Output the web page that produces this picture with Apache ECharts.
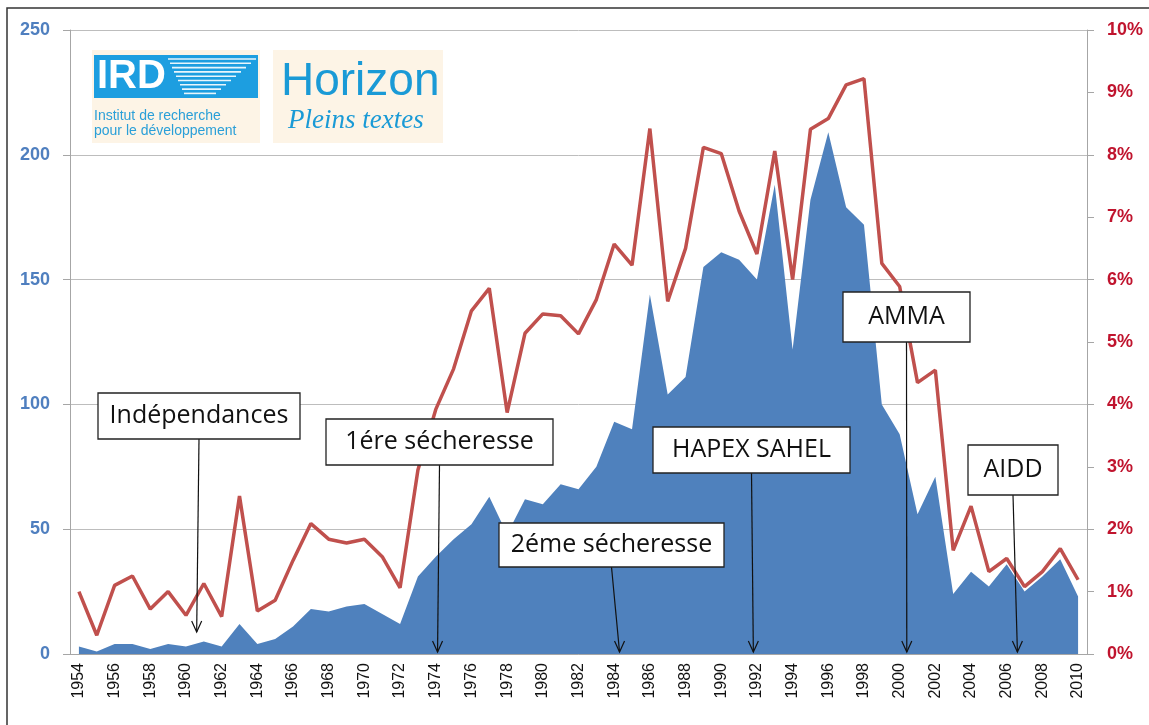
<!DOCTYPE html>
<html>
<head>
<meta charset="utf-8">
<script src="https://cdn.jsdelivr.net/npm/echarts@6/dist/echarts.min.js"></script>
<style>
  html, body { margin: 0; padding: 0; background: #fff; }
  #main { width: 1149px; height: 725px; }
</style>
</head>
<body>
<div id="main"></div>
<script>
// years on the x axis
var years = ['1954', '1955', '1956', '1957', '1958', '1959', '1960', '1961', '1962', '1963',
  '1964', '1965', '1966', '1967', '1968', '1969', '1970', '1971', '1972', '1973',
  '1974', '1975', '1976', '1977', '1978', '1979', '1980', '1981', '1982', '1983',
  '1984', '1985', '1986', '1987', '1988', '1989', '1990', '1991', '1992', '1993',
  '1994', '1995', '1996', '1997', '1998', '1999', '2000', '2001', '2002', '2003',
  '2004', '2005', '2006', '2007', '2008', '2009', '2010'];

// number of documents per year (left axis, blue area)
var documents = [3, 1, 4, 4, 2, 4, 3, 5, 3, 12,
  4, 6, 11, 18, 17, 19, 20, 16, 12, 31,
  39, 46, 52, 63, 48, 62, 60, 68, 66, 75,
  93, 90, 144, 104, 111, 155, 161, 158, 150, 188,
  122, 182, 209, 179, 172, 100, 88, 56, 71, 24,
  33, 27, 36, 25, 31, 38, 23];

// share in percent (right axis, red line)
var share = [1.0, 0.3, 1.1, 1.25, 0.72, 1.0, 0.62, 1.13, 0.6, 2.53,
  0.69, 0.86, 1.5, 2.09, 1.84, 1.78, 1.84, 1.56, 1.06, 2.95,
  3.92, 4.57, 5.5, 5.86, 3.87, 5.14, 5.45, 5.42, 5.13, 5.68,
  6.57, 6.23, 8.42, 5.65, 6.5, 8.12, 8.02, 7.1, 6.41, 8.06,
  6.0, 8.41, 8.58, 9.12, 9.22, 6.26, 5.89, 4.35, 4.55, 1.66,
  2.37, 1.32, 1.53, 1.08, 1.32, 1.69, 1.19];

// annotations: label, year pointed at, value where the arrow stops
var noteTexts = ['Indépendances', '1ére sécheresse', '2éme sécheresse', 'HAPEX SAHEL', 'AMMA', 'AIDD'];
var noteYears = [1960.6, 1974.1, 1984.3, 1991.8, 2000.4, 2006.6];
var noteEnds = [8, 0, 0, 0, 0, 0];

// box layout [x, y, w, h] of each annotation
var noteBoxes = [
  [98, 393, 202, 46],
  [326, 419, 227, 46],
  [499, 523, 225, 44],
  [653, 427, 197, 46],
  [843, 292, 127, 50],
  [968, 445, 90, 50]
];

var chart = echarts.init(document.getElementById('main'));

var option = {
  backgroundColor: '#ffffff',
  animation: false,
  grid: { left: 70, right: 62, top: 30, bottom: 71 },
  xAxis: {
    type: 'category',
    data: years,
    boundaryGap: true,
    axisLine: { lineStyle: { color: '#a6a6a6', width: 1 } },
    axisTick: { interval: 0, length: 6, lineStyle: { color: '#a6a6a6' } },
    axisLabel: {
      interval: 1,
      rotate: 90,
      margin: 9,
      color: '#111',
      fontSize: 16,
      fontFamily: 'Liberation Sans'
    }
  },
  yAxis: [{
    type: 'value',
    min: 0,
    max: 250,
    interval: 50,
    axisLine: { show: true, lineStyle: { color: '#a6a6a6' } },
    axisTick: { show: true, length: 7, lineStyle: { color: '#a6a6a6' } },
    axisLabel: {
      color: '#4f7fbf',
      fontWeight: 'bold',
      fontSize: 18,
      margin: 20,
      fontFamily: 'Liberation Sans'
    },
    splitLine: { lineStyle: { color: '#bdbdbd', width: 1 } }
  }, {
    type: 'value',
    min: 0,
    max: 10,
    interval: 1,
    position: 'right',
    axisLine: { show: true, lineStyle: { color: '#a6a6a6' } },
    axisTick: { show: true, length: 7, lineStyle: { color: '#a6a6a6' } },
    axisLabel: {
      formatter: '{value}%',
      color: '#c0142e',
      fontWeight: 'bold',
      fontSize: 18,
      margin: 20,
      fontFamily: 'Liberation Sans'
    },
    splitLine: { show: false }
  }],
  series: [{
    name: 'Documents',
    type: 'line',
    yAxisIndex: 0,
    data: documents,
    symbol: 'none',
    lineStyle: { width: 0 },
    areaStyle: { color: '#4f81bd', opacity: 1 },
    z: 2
  }, {
    name: 'Part',
    type: 'line',
    yAxisIndex: 1,
    data: share,
    symbol: 'none',
    lineStyle: { color: '#c0504d', width: 3.5 },
    z: 3
  }]
};

chart.setOption(option);

// graphic overlays: frame, logos, annotation boxes with arrows
function xOfYear(y) {
  var idx = y - 1954;
  var i0 = Math.floor(idx);
  var p0 = chart.convertToPixel({ xAxisIndex: 0 }, i0);
  var p1 = chart.convertToPixel({ xAxisIndex: 0 }, i0 + 1);
  return p0 + (idx - i0) * (p1 - p0);
}

var graphics = [];

// outer frame (top and left)
graphics.push({
  type: 'polyline',
  shape: { points: [[7, 725], [7, 8], [1149, 8]] },
  style: { stroke: '#333', lineWidth: 1.5, fill: null },
  z: 10
});

// IRD logo
var ird = [];
ird.push({ type: 'rect', shape: { x: 92, y: 50, width: 168, height: 93 }, style: { fill: '#fdf4e6' } });
ird.push({ type: 'rect', shape: { x: 94, y: 55, width: 164, height: 43 }, style: { fill: '#1d9ee0' } });
for (var k = 0; k < 9; k++) {
  ird.push({
    type: 'line',
    shape: { x1: 168 + k * 2, y1: 59 + k * 4.3, x2: 256 - k * 5, y2: 59 + k * 4.3 },
    style: { stroke: '#ffffff', lineWidth: 1.6, opacity: 0.9 }
  });
}
ird.push({
  type: 'text',
  style: { x: 97, y: 77, text: 'IRD', fill: '#ffffff', font: 'bold 40px "Liberation Sans"', verticalAlign: 'middle' }
});
ird.push({
  type: 'text',
  style: { x: 94, y: 116, text: 'Institut de recherche', fill: '#2a9fd8', font: '14px "Liberation Sans"', verticalAlign: 'middle' }
});
ird.push({
  type: 'text',
  style: { x: 94, y: 131, text: 'pour le développement', fill: '#2a9fd8', font: '14px "Liberation Sans"', verticalAlign: 'middle' }
});
graphics.push({ type: 'group', children: ird, z: 10 });

// Horizon logo
var hz = [];
hz.push({ type: 'rect', shape: { x: 273, y: 50, width: 170, height: 93 }, style: { fill: '#fdf4e6' } });
hz.push({
  type: 'text',
  style: { x: 281, y: 82, text: 'Horizon', fill: '#1a9ad6', font: '46px "Liberation Sans"', verticalAlign: 'middle' }
});
hz.push({
  type: 'text',
  style: { x: 288, y: 121, text: 'Pleins textes', fill: '#1a9ad6', font: 'italic 27px "Liberation Serif"', verticalAlign: 'middle' }
});
graphics.push({ type: 'group', children: hz, z: 10 });

// annotations
for (var i = 0; i < noteTexts.length; i++) {
  var b = noteBoxes[i];
  var sx = b[0] + b[2] / 2;
  var sy = b[1] + b[3];
  var tx = xOfYear(noteYears[i]);
  var ty = chart.convertToPixel({ yAxisIndex: 0 }, noteEnds[i]) - 2;
  graphics.push({
    type: 'line',
    shape: { x1: sx, y1: sy, x2: tx, y2: ty },
    style: { stroke: '#111', lineWidth: 1.2 },
    z: 11
  });
  graphics.push({
    type: 'polyline',
    shape: { points: [[tx - 5, ty - 11], [tx, ty], [tx + 5, ty - 11]] },
    style: { stroke: '#111', lineWidth: 1.2, fill: null },
    z: 11
  });
  graphics.push({
    type: 'rect',
    shape: { x: b[0], y: b[1], width: b[2], height: b[3] },
    style: { fill: '#ffffff', stroke: '#222', lineWidth: 1.3 },
    z: 12
  });
  graphics.push({
    type: 'text',
    style: {
      x: b[0] + b[2] / 2,
      y: b[1] + b[3] / 2,
      text: noteTexts[i],
      fill: '#111',
      font: '25px "Open Sans"',
      align: 'center',
      verticalAlign: 'middle'
    },
    z: 13
  });
}

chart.setOption({ graphic: graphics });
</script>
</body>
</html>
